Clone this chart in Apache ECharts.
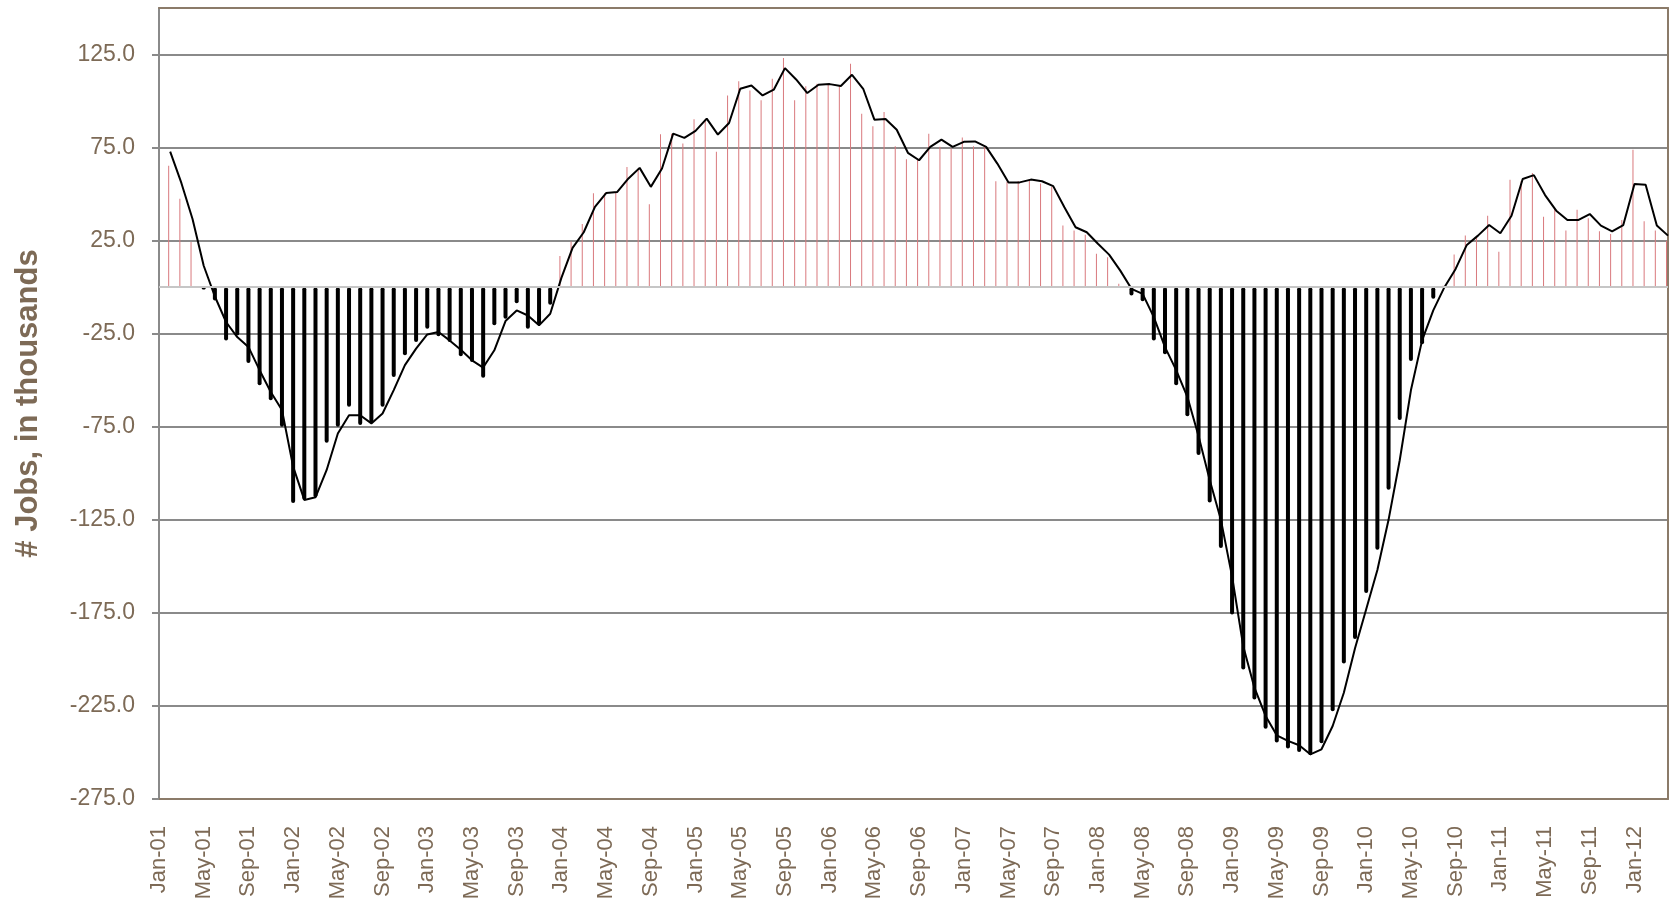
<!DOCTYPE html>
<html>
<head>
<meta charset="utf-8">
<script src="https://cdn.jsdelivr.net/npm/echarts@6/dist/echarts.min.js"></script>
<style>
html,body{margin:0;padding:0;background:#fff;}
#chart{width:1671px;height:898px;}
</style>
</head>
<body>
<div id="chart"></div>
<script>
// ---- data ----
const MONTHS = ['Jan','Feb','Mar','Apr','May','Jun','Jul','Aug','Sep','Oct','Nov','Dec'];
const YEARS = ['01','02','03','04','05','06','07','08','09','10','11','12'];
const LAST_MONTH_OF_2012 = 4; // series runs to Apr-12

// monthly change in jobs (thousands), Jan-01 .. Apr-12
const jobChange = [
  null, 65.3, 47.5, 24.3, -1.2, -7.1, -28.6, -25.9, -40.7, -52.7, -60.7, -75.0,
  -116.0, -114.3, -112.9, -83.6, -75.0, -64.3, -74.1, -72.9, -64.3, -48.2, -36.6, -29.5,
  -22.3, -26.4, -29.5, -37.1, -40.2, -48.6, -20.5, -17.0, -8.6, -22.3, -20.5, -9.4,
  16.8, 24.5, 33.9, 50.4, 50.4, 51.2, 64.6, 63.8, 44.6, 82.1, 82.5, 77.2,
  90.2, 90.2, 72.8, 103.0, 110.6, 105.7, 100.4, 112.0, 123.2, 100.4, 107.9, 109.3,
  109.3, 108.4, 120.0, 93.2, 86.4, 94.1, 75.7, 68.8, 69.1, 82.5, 75.4, 74.5,
  80.4, 75.7, 75.4, 56.9, 56.6, 57.1, 57.8, 55.7, 53.9, 33.1, 30.4, 28.2,
  17.9, 16.1, 1.8, -4.5, -7.5, -28.6, -36.1, -52.7, -69.3, -90.2, -115.7, -140.2,
  -175.9, -205.4, -221.5, -237.2, -244.7, -247.9, -249.7, -251.5, -245.0, -227.8, -202.2, -189.0,
  -164.3, -141.1, -108.9, -71.4, -39.6, -30.7, -6.2, 0.7, 17.5, 27.7, 26.8, 38.4,
  19.1, 57.7, 57.0, 61.3, 37.9, 42.0, 30.4, 41.6, 37.0, 30.0, 28.6, 36.1,
  73.8, 35.4, 30.4, 25.0
];

// smoothed trend line (thousands), Jan-01 .. Apr-12
const trend = [
  null, 72.8, 56.0, 36.6, 11.5, -5.0, -18.7, -26.8, -32.1, -44.6, -56.3, -66.0,
  -96.4, -114.3, -112.9, -98.2, -78.6, -68.8, -68.8, -73.2, -67.9, -55.3, -41.9, -33.0,
  -25.4, -24.1, -28.6, -33.6, -39.3, -43.2, -33.9, -18.2, -12.5, -15.2, -20.5, -14.3,
  5.0, 21.1, 29.5, 43.1, 50.6, 51.2, 58.4, 64.1, 53.9, 63.8, 82.5, 80.2,
  84.0, 90.6, 82.0, 88.2, 106.6, 108.4, 103.0, 106.1, 117.7, 111.6, 104.3, 108.8,
  109.1, 108.1, 114.1, 106.6, 90.0, 90.4, 84.6, 72.2, 68.2, 75.4, 79.3, 75.4,
  78.1, 78.3, 75.4, 66.4, 56.3, 56.3, 57.8, 56.9, 54.3, 42.9, 32.2, 29.5,
  23.3, 17.5, 8.9, -0.9, -3.6, -16.1, -32.2, -44.6, -58.9, -80.0, -103.6, -125.0,
  -155.4, -192.9, -215.2, -230.4, -240.8, -243.8, -246.1, -251.0, -248.3, -235.8, -217.9, -194.0,
  -173.0, -152.0, -125.0, -93.0, -55.4, -28.6, -12.5, 0.0, 9.8, 22.7, 27.7, 33.4,
  29.0, 38.4, 58.1, 60.2, 49.5, 41.1, 36.1, 36.1, 39.3, 33.1, 30.0, 33.4,
  55.4, 55.0, 33.1, 27.7
];

const yMin = -275, yMax = 150, yStep = 50;

// ---- build ----
const categories = [];
YEARS.forEach((yy, yi) => {
  const n = (yi === YEARS.length - 1) ? LAST_MONTH_OF_2012 : 12;
  for (let m = 0; m < n; m++) categories.push(MONTHS[m] + '-' + yy);
});
const posBars = jobChange.map(v => (v !== null && v > 0) ? v : null);
const negBars = jobChange.map(v => (v !== null && v < 0) ? v : null);

const BROWN = '#8b7b69';
const TEXT = '#7d6a56';
const GRID = '#8a8a8a';
const FONT = '"Liberation Sans", Arial, sans-serif';

const chart = echarts.init(document.getElementById('chart'), null, {renderer: 'canvas'});
chart.setOption({
  animation: false,
  backgroundColor: '#ffffff',
  grid: {left: 159, right: 3, top: 8, bottom: 99, containLabel: false, outerBoundsMode: 'none'},
  xAxis: [{
    type: 'category',
    data: categories,
    boundaryGap: false,
    axisLine: {show: true, onZero: false, lineStyle: {color: BROWN, width: 2}},
    axisTick: {show: false},
    splitLine: {show: false},
    axisLabel: {interval: 3, rotate: 90, margin: 27, color: TEXT, fontSize: 22, fontFamily: FONT}
  }, {
    type: 'category',
    data: categories,
    boundaryGap: false,
    position: 'top',
    axisLine: {show: true, onZero: false, lineStyle: {color: BROWN, width: 2}},
    axisTick: {show: false},
    axisLabel: {show: false},
    splitLine: {show: false}
  }],
  yAxis: [{
    type: 'value',
    min: yMin, max: yMax, interval: yStep,
    axisLine: {show: true, lineStyle: {color: GRID, width: 2}},
    axisTick: {show: true, inside: false, length: 7, lineStyle: {color: GRID, width: 2}},
    splitLine: {show: true, lineStyle: {color: GRID, width: 2}},
    axisLabel: {
      showMaxLabel: false, margin: 24, color: TEXT, fontSize: 23, fontFamily: FONT,
      formatter: v => v.toFixed(1)
    },
    name: '# Jobs, in thousands',
    nameLocation: 'middle',
    nameGap: 115,
    nameTextStyle: {color: TEXT, fontSize: 31, fontWeight: 'bold', fontFamily: FONT}
  }, {
    type: 'value',
    position: 'right',
    min: yMin, max: yMax, interval: yStep,
    axisLine: {show: true, lineStyle: {color: BROWN, width: 2}},
    axisTick: {show: false},
    axisLabel: {show: false},
    splitLine: {show: false}
  }],
  series: [{
    name: 'gain',
    type: 'bar',
    data: posBars,
    barWidth: 1,
    barGap: '-100%',
    itemStyle: {color: '#d9797d'},
    markLine: {
      silent: true, symbol: 'none', label: {show: false},
      lineStyle: {color: '#c6c6c6', width: 2, type: 'solid'},
      data: [{yAxis: 0}]
    },
    z: 2
  }, {
    name: 'loss',
    type: 'bar',
    data: negBars,
    barWidth: 4,
    barGap: '-100%',
    itemStyle: {color: '#000000', borderRadius: 2},
    z: 3
  }, {
    name: 'trend',
    type: 'line',
    data: trend,
    symbol: 'none',
    connectNulls: false,
    lineStyle: {color: '#000000', width: 2},
    z: 4
  }]
});
</script>
</body>
</html>
